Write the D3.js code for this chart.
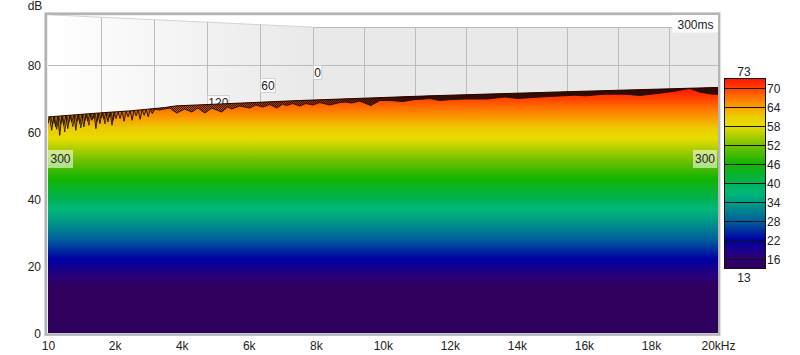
<!DOCTYPE html>
<html>
<head>
<meta charset="utf-8">
<script src="https://cdn.jsdelivr.net/npm/d3@7"></script>
<style>
html, body { margin: 0; padding: 0; background: #fff; overflow: hidden; }
svg { display: block; }
text { font-family: "Liberation Sans", Arial, sans-serif; font-size: 12px; fill: #222; }
.domain { display: none; }
</style>
</head>
<body>
<div id="chart"></div>
<script>
// axis ticks
const dbTicks = [0, 20, 40, 60, 80];
const freqTicks = [10, 2000, 4000, 6000, 8000, 10000, 12000, 14000, 16000, 18000, 20000];
const freqLabels = ["10", "2k", "4k", "6k", "8k", "10k", "12k", "14k", "16k", "18k", "20kHz"];
const backFreqTicks = [2000, 4000, 6000, 8000, 10000, 12000, 14000];
const timeTicks = [240, 180, 120, 60, 0];
const timeLabels = [120, 60, 0];
const timeLabelDb = [69.1, 74, 77.9];
const legendTicks = [70, 64, 58, 52, 46, 40, 34, 28, 22, 16];
const legendRange = [13, 73];

// colour map, dB -> colour
const mapDb = [0, 14, 17, 22, 28, 34, 37, 40, 46, 52, 58, 61, 64, 67, 70, 73];
const mapColours = ["#30005f", "#30005f", "#28007a", "#0000a4", "#00609c", "#00a084", "#00b878", "#00b254",
    "#12b400", "#78c200", "#e6dc00", "#eccc00", "#f8a000", "#ff7200", "#ff4000", "#ff1400"];

// upper edge of the waterfall (back slices)
const topHz = [10, 1550, 2450, 3490, 3820, 7520, 11400, 15730, 20000];
const topDb = [64.5, 65.7, 66.3, 67.3, 67.8, 69.4, 70.8, 72.1, 73.3];

// front slice (300 ms)
const frontHz = [10, 60, 120, 180, 240, 300, 360, 420, 480, 540, 600, 660, 720, 780, 840, 900, 960, 1020, 1080, 1140,
    1200, 1260, 1320, 1380, 1440, 1500, 1560, 1620, 1680, 1740, 1800, 1860, 1920, 1980, 2040, 2100, 2160, 2220, 2280,
    2340, 2400, 2460, 2520, 2580, 2640, 2700, 2760, 2820, 2880, 2940, 3000, 3060, 3120, 3200, 3340,
    3490, 3640, 3850, 4090, 4300, 4480, 4690, 4900, 5190, 5370, 5490, 5730, 6030, 6210, 6420, 6630, 6840, 7010, 7130,
    7310, 7520, 7700, 7910, 8120, 8420, 8720, 8900, 9070, 9310, 9640, 9910, 10210, 10600, 10960, 11250,
    11400, 11700, 12060, 12450, 13100, 13640, 14030, 14690, 15280, 15730, 16030, 16630, 17220, 17670, 18270, 18720,
    19160, 19460, 19820, 20000];
const frontDb = [62.5, 64.4, 60.5, 64.5, 61.5, 64.6, 59.0, 64.7, 62.0, 64.8, 61.0, 64.9, 63.0, 65.0, 60.5, 65.1, 62.5, 65.2, 61.5, 65.3,
    63.2, 65.4, 63.5, 65.5, 61.0, 65.6, 62.5, 65.7, 63.8, 65.8, 63.0, 65.9, 62.0, 66.0, 64.0, 66.0, 64.0, 66.1, 63.2,
    66.2, 64.5, 66.3, 63.5, 66.4, 64.8, 66.5, 63.8, 66.6, 65.0, 66.7, 64.5, 66.8, 65.5, 66.8, 66.6,
    66.87, 67.16, 65.67, 66.87, 65.97, 67.16, 65.67, 67.16, 65.97, 67.46, 66.87, 67.76, 67.16, 68.06, 67.46, 68.2, 67.16, 68.36, 67.9,
    68.5, 67.76, 68.5, 68.06, 68.8, 68.06, 68.8, 68.96, 68.66, 69.25, 67.9, 69.4, 69.4, 69.1, 69.7, 69.85,
    70.0, 69.4, 69.7, 69.85, 69.85, 70.45, 70.0, 70.45, 70.75, 71.0, 70.8, 71.3, 71.3, 70.9, 71.6, 72.2,
    73.0, 71.9, 71.3, 71.3];

// an earlier slice, only visible as extra teeth at low freq
const sliceHz = [10, 90, 150, 210, 270, 330, 390, 450, 510, 570, 630, 690, 750, 810, 870, 930, 990, 1050, 1110, 1170,
    1230, 1290, 1350, 1410, 1470, 1530, 1590, 1650, 1710, 1770, 1830, 1890, 1950, 2010];
const sliceDb = [63.5, 64.4, 62.4, 64.5, 60.8, 64.6, 62.5, 64.7, 60.0, 64.8, 62.8, 64.9, 61.6, 65.0, 63.2, 65.1, 61.2, 65.2, 63.4, 65.3,
    62.0, 65.4, 64.0, 65.5, 63.0, 65.6, 64.2, 65.7, 62.4, 65.8, 64.4, 65.9, 63.4, 66.0];

const width = 800, height = 355;
const left = 48, right = 718, top_ = 16, bottom = 333;

const x = d3.scaleLinear().domain([10, 20000]).range([left, right]);
const y = d3.scaleLinear().domain([0, 94.63]).range([bottom, top_]);
// floor of the waterfall: time goes towards the back wall
const timeX = d3.scaleLinear().domain([300, 0]).range([left, 313]);
const timeEdge = d3.scaleLinear().domain([300, 0]).range([95, 91.3]);
const backX = d3.scaleLinear().domain([0, 16000]).range([313, 720]);
const legendY = d3.scaleLinear().domain(legendRange).range([268.5, 78.5]);

const svg = d3.select("#chart").append("svg").attr("width", width).attr("height", height);
const defs = svg.append("defs");

function dbGradient(id, scale) {
    const g = defs.append("linearGradient").attr("id", id)
        .attr("gradientUnits", "userSpaceOnUse")
        .attr("x1", 0).attr("x2", 0).attr("y1", scale(73)).attr("y2", scale(mapDb[0]));
    d3.range(mapDb.length).reverse().forEach(i => {
        g.append("stop").attr("offset", (73 - mapDb[i]) / (73 - mapDb[0])).attr("stop-color", mapColours[i]);
    });
}
dbGradient("surface", y);
dbGradient("legend", legendY);

const wall = defs.append("linearGradient").attr("id", "wall")
    .attr("gradientUnits", "userSpaceOnUse").attr("x1", left).attr("x2", 313).attr("y1", 0).attr("y2", 0);
wall.append("stop").attr("offset", 0).attr("stop-color", "#ffffff");
wall.append("stop").attr("offset", 1).attr("stop-color", "#e9e9e9");

// dark build up of the slices, thin at low freq, solid at high freq
const dark = defs.append("linearGradient").attr("id", "dark")
    .attr("gradientUnits", "userSpaceOnUse").attr("x1", left).attr("x2", right).attr("y1", 0).attr("y2", 0);
[[48, 0.3], [160, 0.2], [200, 0.3], [320, 0.45], [420, 0.92], [718, 0.95]].forEach(s => {
    dark.append("stop").attr("offset", (s[0] - left) / (right - left))
        .attr("stop-color", "#260800").attr("stop-opacity", s[1]);
});

const hatch = defs.append("pattern").attr("id", "hatch").attr("patternUnits", "userSpaceOnUse")
    .attr("width", 2).attr("height", 2);
hatch.append("rect").attr("width", 1).attr("height", 1).attr("fill", "#1e0c00");
hatch.append("rect").attr("x", 1).attr("y", 1).attr("width", 1).attr("height", 1).attr("fill", "#1e0c00");

defs.append("clipPath").attr("id", "plot").append("rect")
    .attr("x", left).attr("y", top_ - 1).attr("width", right - left).attr("height", bottom - top_ + 1);
defs.append("clipPath").attr("id", "hatchClip").append("rect")
    .attr("x", 150).attr("y", 0).attr("width", 280).attr("height", height);

// frame with soft shadow
svg.append("rect").attr("x", 44.5).attr("y", 12.5).attr("width", 675.5).attr("height", 323)
    .attr("fill", "none").attr("stroke", "#dcdcdc");
svg.append("rect").attr("x", 46).attr("y", 14).attr("width", 673).attr("height", 320.5)
    .attr("fill", "#fff").attr("stroke", "#b4b4b4").attr("stroke-width", 2.4);

const plot = svg.append("g").attr("clip-path", "url(#plot)");

// back wall and floor
plot.append("polygon").attr("fill", "url(#wall)")
    .attr("points", [[left, y(timeEdge(300))], [313, y(timeEdge(0))], [right, y(timeEdge(0))], [right, bottom], [left, bottom]].join(" "));

const gridColour = "#bcbcbc";
plot.append("line").attr("x1", left).attr("x2", 313)
    .attr("y1", y(timeEdge(300))).attr("y2", y(timeEdge(0))).attr("stroke", "#d2d2d2");
plot.append("line").attr("x1", 313).attr("x2", right)
    .attr("y1", Math.round(y(timeEdge(0))) + 0.5).attr("y2", Math.round(y(timeEdge(0))) + 0.5).attr("stroke", gridColour);
plot.selectAll("line.time").data(timeTicks).join("line").attr("class", "time")
    .attr("x1", d => Math.round(timeX(d)) + 0.5).attr("x2", d => Math.round(timeX(d)) + 0.5)
    .attr("y1", d => y(timeEdge(d))).attr("y2", y(40)).attr("stroke", gridColour);
plot.selectAll("line.back").data(backFreqTicks).join("line").attr("class", "back")
    .attr("x1", d => Math.round(backX(d)) + 0.5).attr("x2", d => Math.round(backX(d)) + 0.5)
    .attr("y1", y(timeEdge(0))).attr("y2", y(40)).attr("stroke", gridColour);
plot.selectAll("line.level").data(dbTicks.slice(1)).join("line").attr("class", "level")
    .attr("x1", left).attr("x2", right)
    .attr("y1", d => Math.round(y(d)) + 0.5).attr("y2", d => Math.round(y(d)) + 0.5).attr("stroke", gridColour);

// time labels on the floor
const tl = plot.selectAll("g.tl").data(timeLabels).join("g").attr("class", "tl")
    .attr("transform", (d, i) => `translate(${Math.round(timeX(d)) + 0.5},${Math.round(y(timeLabelDb[i])) + 0.5})`);
tl.append("rect").attr("height", 14).attr("y", -7)
    .attr("width", d => String(d).length * 6.7 + 1.5)
    .attr("fill", "#fff").attr("stroke", "#d0d0d0");
tl.append("text").attr("x", d => (String(d).length * 6.7 + 1.5) / 2).attr("y", 4.5).attr("text-anchor", "middle")
    .text(d => d);

// surface
const topPts = topHz.map((h, i) => [h, topDb[i]]);
const frontPts = frontHz.map((h, i) => [h, frontDb[i]]);
const slicePts = sliceHz.map((h, i) => [h, sliceDb[i]]);
const line = d3.line().x(d => x(d[0])).y(d => y(d[1]));
const topAt = d3.scaleLinear().domain(topHz).range(topDb);
const band = d3.area().x(d => x(d[0])).y0(d => y(d[1])).y1(d => y(Math.max(topAt(d[0]), d[1])));

plot.append("path").datum(topPts)
    .attr("d", d3.area().x(d => x(d[0])).y0(bottom).y1(d => y(d[1])))
    .attr("fill", "url(#surface)");
plot.append("path").datum(frontPts).attr("d", band).attr("fill", "url(#hatch)")
    .attr("clip-path", "url(#hatchClip)").attr("opacity", 0.8);
plot.append("path").datum(frontPts).attr("d", band).attr("fill", "url(#dark)");
plot.append("path").datum(slicePts).attr("d", line)
    .attr("fill", "none").attr("stroke", "#2a1400").attr("stroke-width", 0.8);
plot.append("path").datum(frontPts).attr("d", line)
    .attr("fill", "none").attr("stroke", "#1e0e00").attr("stroke-width", 0.9);
plot.append("path").datum(topPts).attr("d", line)
    .attr("fill", "none").attr("stroke", "#1e0800").attr("stroke-width", 1);

// labels over the plot
const frontLabelY = Math.round(y(54.6));
[[left, 25], [693, 24]].forEach(b => {
    plot.append("rect").attr("x", b[0]).attr("y", frontLabelY).attr("width", b[1]).attr("height", 18)
        .attr("fill", "#fff").attr("opacity", 0.55);
    plot.append("text").attr("x", b[0] + b[1] / 2).attr("y", frontLabelY + 13).attr("text-anchor", "middle").text("300");
});
plot.append("rect").attr("x", 672.5).attr("y", 15).attr("width", 46).attr("height", 17.5)
    .attr("fill", "#fff");
svg.append("text").attr("x", 695.5).attr("y", 29).attr("text-anchor", "middle").text("300ms");

// axes
svg.append("g").attr("transform", `translate(${left},1)`)
    .call(d3.axisLeft(y).tickValues(dbTicks).tickSize(0).tickPadding(7));
svg.append("g").attr("transform", `translate(0,${bottom})`)
    .call(d3.axisBottom(x).tickValues(freqTicks).tickSize(0).tickPadding(8.5)
        .tickFormat((d, i) => freqLabels[i]));
svg.selectAll(".tick text").attr("fill", null);
svg.selectAll(".tick line").remove();
svg.selectAll("g[font-family]").attr("font-family", null).attr("font-size", null);
svg.append("text").attr("x", 35).attr("y", 10).attr("text-anchor", "middle").text("dB");

// colour bar
const barX = 724, barW = 41;
svg.append("rect").attr("x", barX + 0.5).attr("y", legendY(73)).attr("width", barW).attr("height", legendY(13) - legendY(73))
    .attr("fill", "url(#legend)").attr("stroke", "#111");
svg.selectAll("line.lg").data(legendTicks).join("line").attr("class", "lg")
    .attr("x1", barX).attr("x2", barX + barW)
    .attr("y1", d => Math.round(legendY(d)) + 0.5).attr("y2", d => Math.round(legendY(d)) + 0.5)
    .attr("stroke", "#111");
svg.selectAll("text.lg").data(legendTicks).join("text").attr("class", "lg")
    .attr("x", barX + barW + 2).attr("y", d => legendY(d) + 4.5).text(d => d);
svg.selectAll("text.lgEnd").data(legendRange).join("text").attr("class", "lgEnd")
    .attr("x", barX + barW / 2 - 0.5).attr("text-anchor", "middle")
    .attr("y", d => d === 73 ? legendY(d) - 3 : legendY(d) + 13).text(d => d);
</script>
</body>
</html>
